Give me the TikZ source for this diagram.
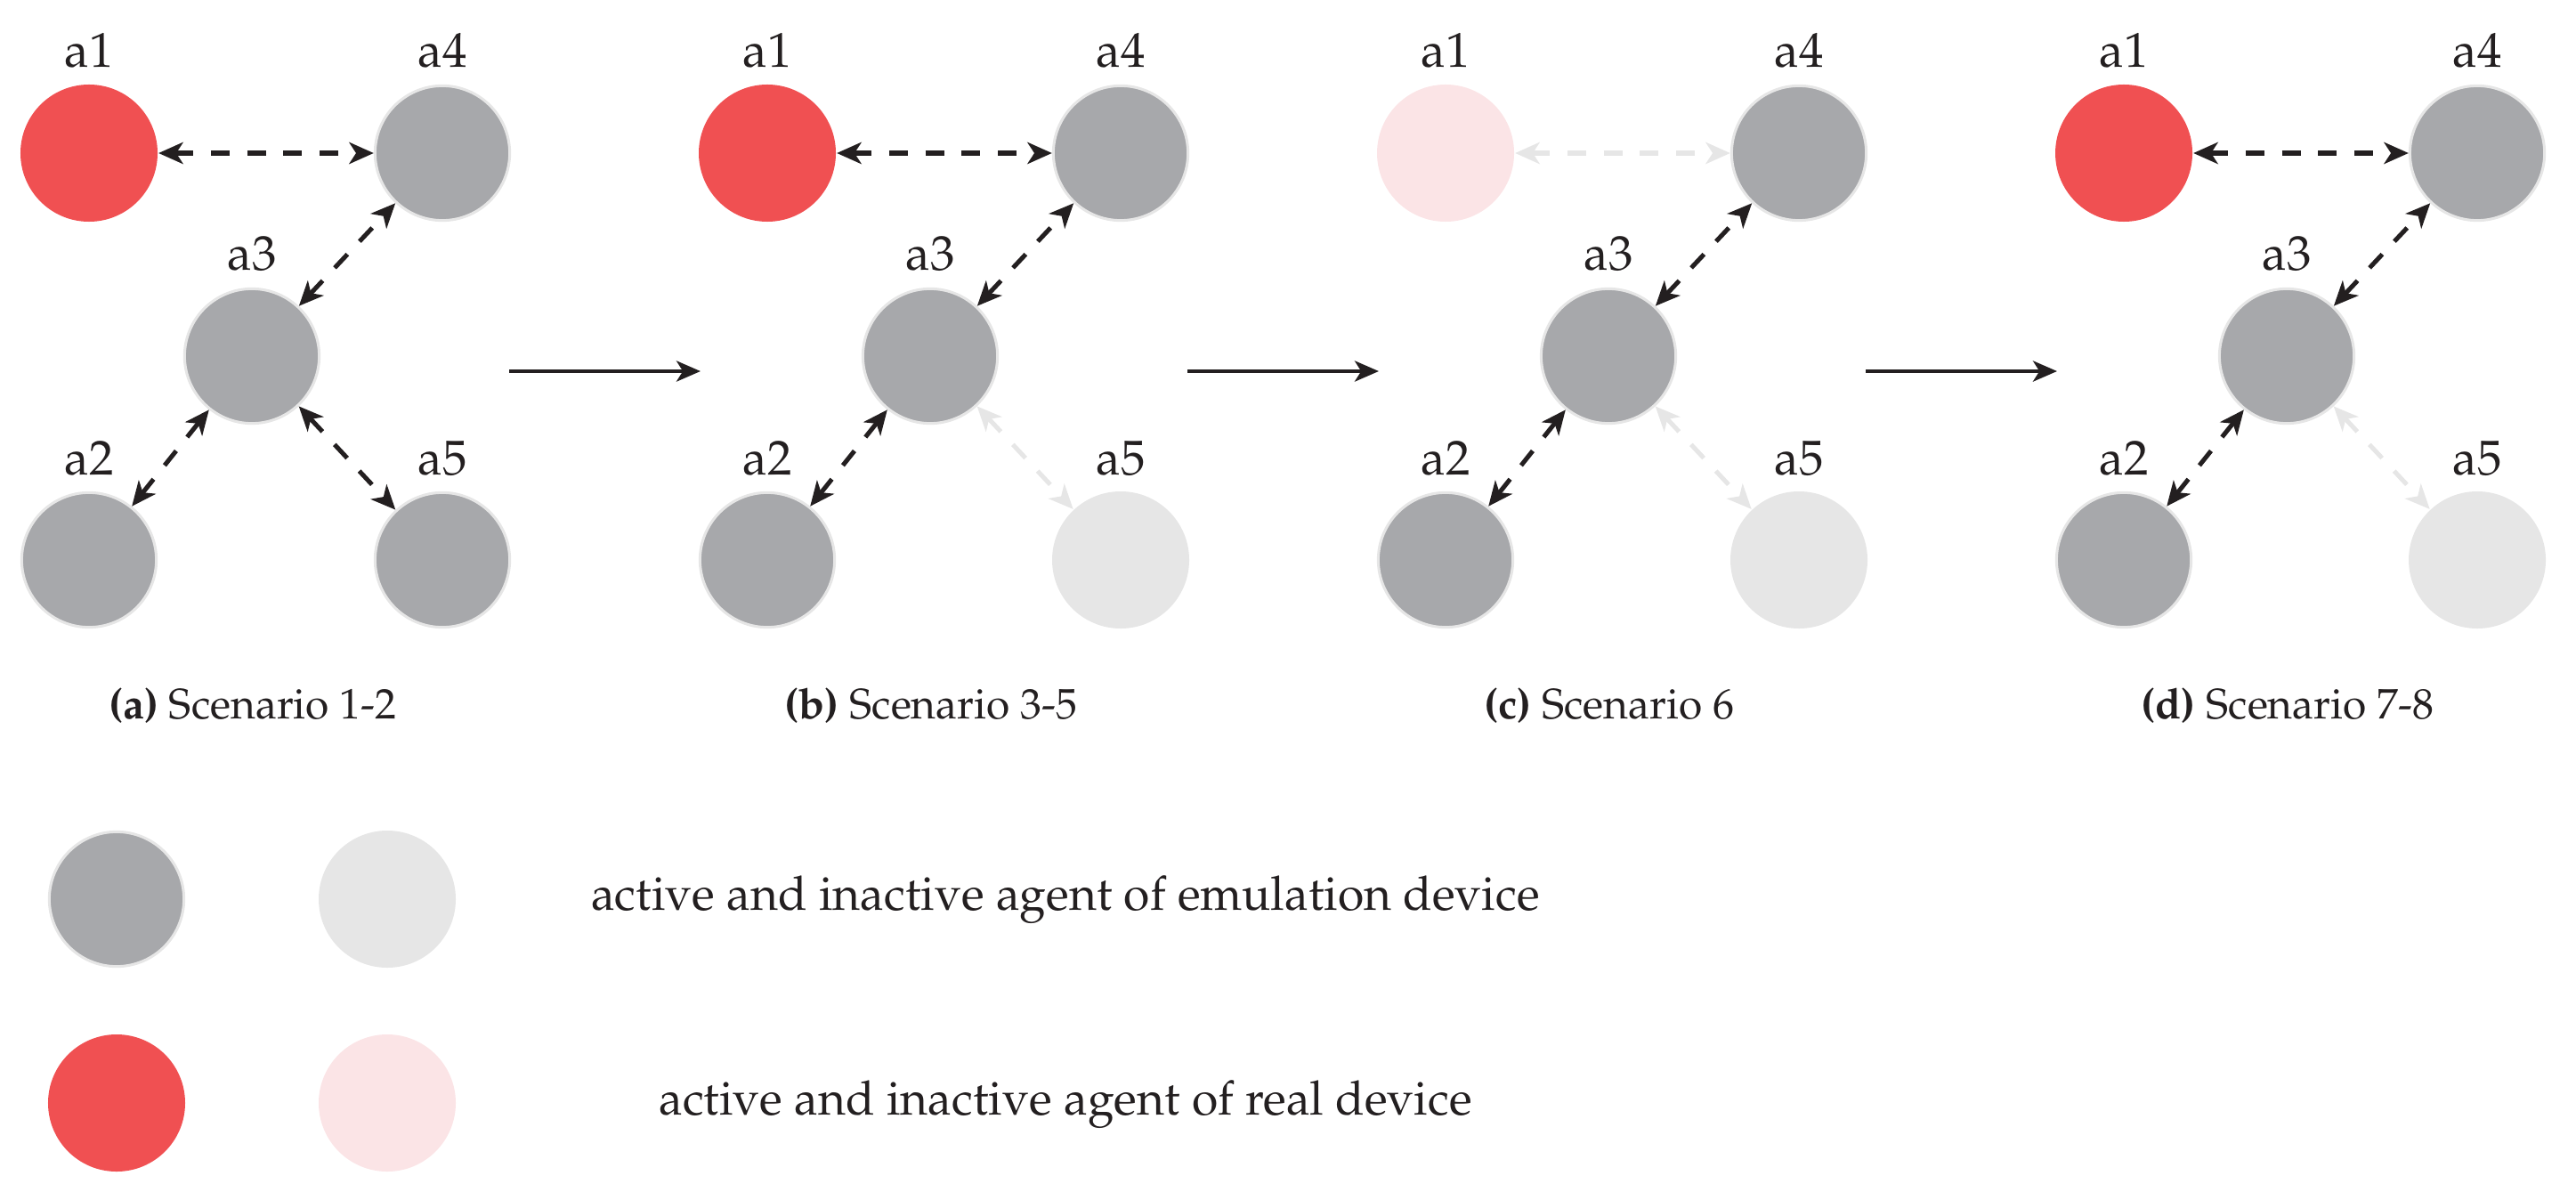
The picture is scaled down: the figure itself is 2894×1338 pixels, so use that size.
\documentclass[tikz,border=0pt]{standalone}
\usepackage[T1]{fontenc}
\usepackage{mathpazo}
\usetikzlibrary{arrows.meta}
\definecolor{agentred}{HTML}{F05052}
\definecolor{agentpink}{HTML}{FBE4E6}
\definecolor{agentgray}{HTML}{A7A8AB}
\definecolor{agentlight}{HTML}{E6E6E6}
\definecolor{ink}{HTML}{231F20}
\begin{document}
\begin{tikzpicture}[x=0.1818pt,y=-0.1818pt,
  act/.style={circle, fill=agentgray, draw=agentlight, line width=0.55pt, minimum size=27.5pt, inner sep=0pt},
  inact/.style={circle, fill=agentlight, minimum size=28pt, inner sep=0pt},
  real/.style={circle, fill=agentred, minimum size=28pt, inner sep=0pt},
  realoff/.style={circle, fill=agentpink, minimum size=28pt, inner sep=0pt},
  link/.style={draw=ink, line width=0.92pt, dash pattern=on 3.8pt off 3.6pt,
    {Stealth[length=5pt,width=4.4pt,inset=1.4pt]}-{Stealth[length=5pt,width=4.4pt,inset=1.4pt]}},
  linkoff/.style={link, draw=agentlight},
  flow/.style={draw=ink, line width=0.82pt, -{Stealth[length=4.9pt,width=4.2pt,inset=1.3pt]}},
  lbl/.style={anchor=base, inner sep=0pt, text=ink, font=\fontsize{10}{12}\selectfont},
  captxt/.style={anchor=base, inner sep=0pt, text=ink, font=\fontsize{8.7}{10}\selectfont},
  legtxt/.style={anchor=base, inner sep=0pt, text=ink, font=\fontsize{9.7}{12}\selectfont}
]
\useasboundingbox (0,0) rectangle (2894,1338);

% ---------- panel (a) ----------
\begin{scope}
\node[real] (p1a1) at (100,172) {};
\node[act]  (p1a4) at (497,172) {};
\node[act]  (p1a3) at (283,400) {};
\node[act]  (p1a2) at (100,629) {};
\node[act]  (p1a5) at (497,629) {};
\node[lbl] (p1l1) at (100,76) {a1};
\node[lbl] (p1l4) at (497,76) {a4};
\node[lbl] (p1l3) at (283,304) {a3};
\node[lbl] (p1l2) at (100,533) {a2};
\node[lbl] (p1l5) at (497,533) {a5};
\draw[link] (p1a1) -- (p1a4);
\draw[link] (p1a3) -- (p1a4);
\draw[link] (p1a2) -- (p1a3);
\draw[link] (p1a3) -- (p1a5);
\node[captxt] (p1cap) at (284,807) {\textbf{(a)} Scenario 1-2};
\coordinate (t1s) at (572,417);
\coordinate (t1e) at (787,417);
\draw[flow] (t1s) -- (t1e);
\end{scope}

% ---------- panel (b) ----------
\begin{scope}[shift={(762,0)}]
\node[real]  (p2a1) at (100,172) {};
\node[act]   (p2a4) at (497,172) {};
\node[act]   (p2a3) at (283,400) {};
\node[act]   (p2a2) at (100,629) {};
\node[inact] (p2a5) at (497,629) {};
\node[lbl] (p2l1) at (100,76) {a1};
\node[lbl] (p2l4) at (497,76) {a4};
\node[lbl] (p2l3) at (283,304) {a3};
\node[lbl] (p2l2) at (100,533) {a2};
\node[lbl] (p2l5) at (497,533) {a5};
\draw[link] (p2a1) -- (p2a4);
\draw[link] (p2a3) -- (p2a4);
\draw[link] (p2a2) -- (p2a3);
\draw[linkoff] (p2a3) -- (p2a5);
\node[captxt] (p2cap) at (284,807) {\textbf{(b)} Scenario 3-5};
\coordinate (t2s) at (572,417);
\coordinate (t2e) at (787,417);
\draw[flow] (t2s) -- (t2e);
\end{scope}

% ---------- panel (c) ----------
\begin{scope}[shift={(1524,0)}]
\node[realoff] (p3a1) at (100,172) {};
\node[act]   (p3a4) at (497,172) {};
\node[act]   (p3a3) at (283,400) {};
\node[act]   (p3a2) at (100,629) {};
\node[inact] (p3a5) at (497,629) {};
\node[lbl] (p3l1) at (100,76) {a1};
\node[lbl] (p3l4) at (497,76) {a4};
\node[lbl] (p3l3) at (283,304) {a3};
\node[lbl] (p3l2) at (100,533) {a2};
\node[lbl] (p3l5) at (497,533) {a5};
\draw[linkoff] (p3a1) -- (p3a4);
\draw[link] (p3a3) -- (p3a4);
\draw[link] (p3a2) -- (p3a3);
\draw[linkoff] (p3a3) -- (p3a5);
\node[captxt] (p3cap) at (284,807) {\textbf{(c)} Scenario 6};
\coordinate (t3s) at (572,417);
\coordinate (t3e) at (787,417);
\draw[flow] (t3s) -- (t3e);
\end{scope}

% ---------- panel (d) ----------
\begin{scope}[shift={(2286,0)}]
\node[real]  (p4a1) at (100,172) {};
\node[act]   (p4a4) at (497,172) {};
\node[act]   (p4a3) at (283,400) {};
\node[act]   (p4a2) at (100,629) {};
\node[inact] (p4a5) at (497,629) {};
\node[lbl] (p4l1) at (100,76) {a1};
\node[lbl] (p4l4) at (497,76) {a4};
\node[lbl] (p4l3) at (283,304) {a3};
\node[lbl] (p4l2) at (100,533) {a2};
\node[lbl] (p4l5) at (497,533) {a5};
\draw[link] (p4a1) -- (p4a4);
\draw[link] (p4a3) -- (p4a4);
\draw[link] (p4a2) -- (p4a3);
\draw[linkoff] (p4a3) -- (p4a5);
\node[captxt] (p4cap) at (284,807) {\textbf{(d)} Scenario 7-8};
\end{scope}

% ---------- legend ----------
\node[act]     (lg1) at (131,1010) {};
\node[inact]   (lg2) at (435,1010) {};
\node[real]    (lg3) at (131,1239) {};
\node[realoff] (lg4) at (435,1239) {};
\node[legtxt] (lgt1) at (1197,1022) {active and inactive agent of emulation device};
\node[legtxt] (lgt2) at (1197,1252) {active and inactive agent of real device};
\end{tikzpicture}
\end{document}
